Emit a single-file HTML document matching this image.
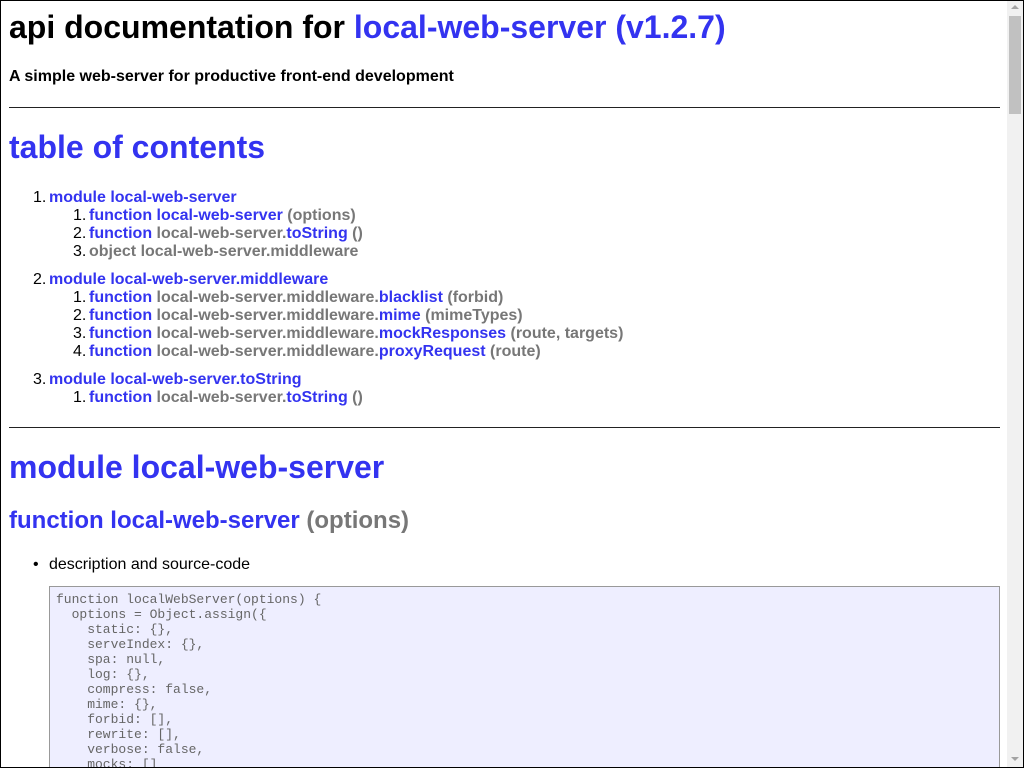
<!DOCTYPE html>
<html><head><meta charset="utf-8"><style>
*{margin:0;padding:0;box-sizing:border-box}
html,body{width:1024px;height:768px;overflow:hidden;background:#fff}
body{font-family:"Liberation Sans",sans-serif;position:relative}
#w{position:absolute;left:0;top:1px;width:1024px;height:768px}
.a{position:absolute;white-space:nowrap}
.b{color:#3333f0}
.g{color:#777}
.t{font-weight:bold;font-size:16px;line-height:18px}
.n{position:absolute;white-space:nowrap;font-size:16px;line-height:18px;font-weight:normal}
hr{position:absolute;left:9px;width:991px;height:0;border:0;border-top:1px solid #222}
.code{position:absolute;left:49px;top:586px;width:951px;height:200px;background:#eeeeff;border:1px solid #999;padding:5px 6px;font-family:"Liberation Mono",monospace;font-size:13px;line-height:15px;color:#666;white-space:pre}
.sb{position:absolute;left:1007px;top:0;width:16px;height:768px;background:#f1f1f1}
#bd{position:absolute;left:0;top:0;width:1024px;height:768px;border:1px solid #000;pointer-events:none}
</style></head><body>
<div id="w">
<div class="a" style="left:9px;top:7px;font-size:32px;font-weight:bold;line-height:38px">api documentation for <span class="b">local-web-server (v1.2.7)</span></div>
<div class="a" style="left:9px;top:66px;font-size:16px;font-weight:bold;line-height:20px">A simple web-server for productive front-end development</div>
<hr style="top:106px">
<div class="a b" style="left:9px;top:127px;font-size:32px;font-weight:bold;line-height:38px">table of contents</div>

<div class="n" style="left:33px;top:188px">1.</div><div class="a t" style="left:49px;top:188px"><span class="b">module local-web-server</span></div>
<div class="n" style="left:73px;top:206px">1.</div><div class="a t" style="left:89px;top:206px"><span class="b">function local-web-server</span> <span class="g">(options)</span></div>
<div class="n" style="left:73px;top:224px">2.</div><div class="a t" style="left:89px;top:224px"><span class="b">function</span> <span class="g">local-web-server.</span><span class="b">toString</span> <span class="g">()</span></div>
<div class="n" style="left:73px;top:242px">3.</div><div class="a t" style="left:89px;top:242px"><span class="g">object local-web-server.middleware</span></div>

<div class="n" style="left:33px;top:270px">2.</div><div class="a t" style="left:49px;top:270px"><span class="b">module local-web-server.middleware</span></div>
<div class="n" style="left:73px;top:288px">1.</div><div class="a t" style="left:89px;top:288px"><span class="b">function</span> <span class="g">local-web-server.middleware.</span><span class="b">blacklist</span> <span class="g">(forbid)</span></div>
<div class="n" style="left:73px;top:306px">2.</div><div class="a t" style="left:89px;top:306px"><span class="b">function</span> <span class="g">local-web-server.middleware.</span><span class="b">mime</span> <span class="g">(mimeTypes)</span></div>
<div class="n" style="left:73px;top:324px">3.</div><div class="a t" style="left:89px;top:324px"><span class="b">function</span> <span class="g">local-web-server.middleware.</span><span class="b">mockResponses</span> <span class="g">(route, targets)</span></div>
<div class="n" style="left:73px;top:342px">4.</div><div class="a t" style="left:89px;top:342px"><span class="b">function</span> <span class="g">local-web-server.middleware.</span><span class="b">proxyRequest</span> <span class="g">(route)</span></div>

<div class="n" style="left:33px;top:370px">3.</div><div class="a t" style="left:49px;top:370px"><span class="b">module local-web-server.toString</span></div>
<div class="n" style="left:73px;top:388px">1.</div><div class="a t" style="left:89px;top:388px"><span class="b">function</span> <span class="g">local-web-server.</span><span class="b">toString</span> <span class="g">()</span></div>

<hr style="top:426px">
<div class="a b" style="left:9px;top:447px;font-size:32px;font-weight:bold;line-height:38px">module local-web-server</div>
<div class="a" style="left:9px;top:506px;font-size:24px;font-weight:bold;line-height:28px"><span class="b">function local-web-server</span> <span class="g">(options)</span></div>
<div class="a" style="left:33px;top:555px;font-size:16px;line-height:18px">•</div>
<div class="a" style="left:49px;top:555px;font-size:16px;line-height:18px">description and source-code</div>
<div class="code" style="top:585px">function localWebServer(options) {
  options = Object.assign({
    static: {},
    serveIndex: {},
    spa: null,
    log: {},
    compress: false,
    mime: {},
    forbid: [],
    rewrite: [],
    verbose: false,
    mocks: []</div>
</div>
<div class="sb">
<div style="position:absolute;left:4px;top:5px;width:0;height:0;border-left:4px solid transparent;border-right:4px solid transparent;border-bottom:4px solid #a3a3a3"></div>
<div style="position:absolute;left:2px;top:16px;width:12px;height:98px;background:#c1c1c1"></div>
<div style="position:absolute;left:4px;top:757px;width:0;height:0;border-left:4px solid transparent;border-right:4px solid transparent;border-top:4px solid #a3a3a3"></div>
</div>
<div id="bd"></div>
</body></html>
